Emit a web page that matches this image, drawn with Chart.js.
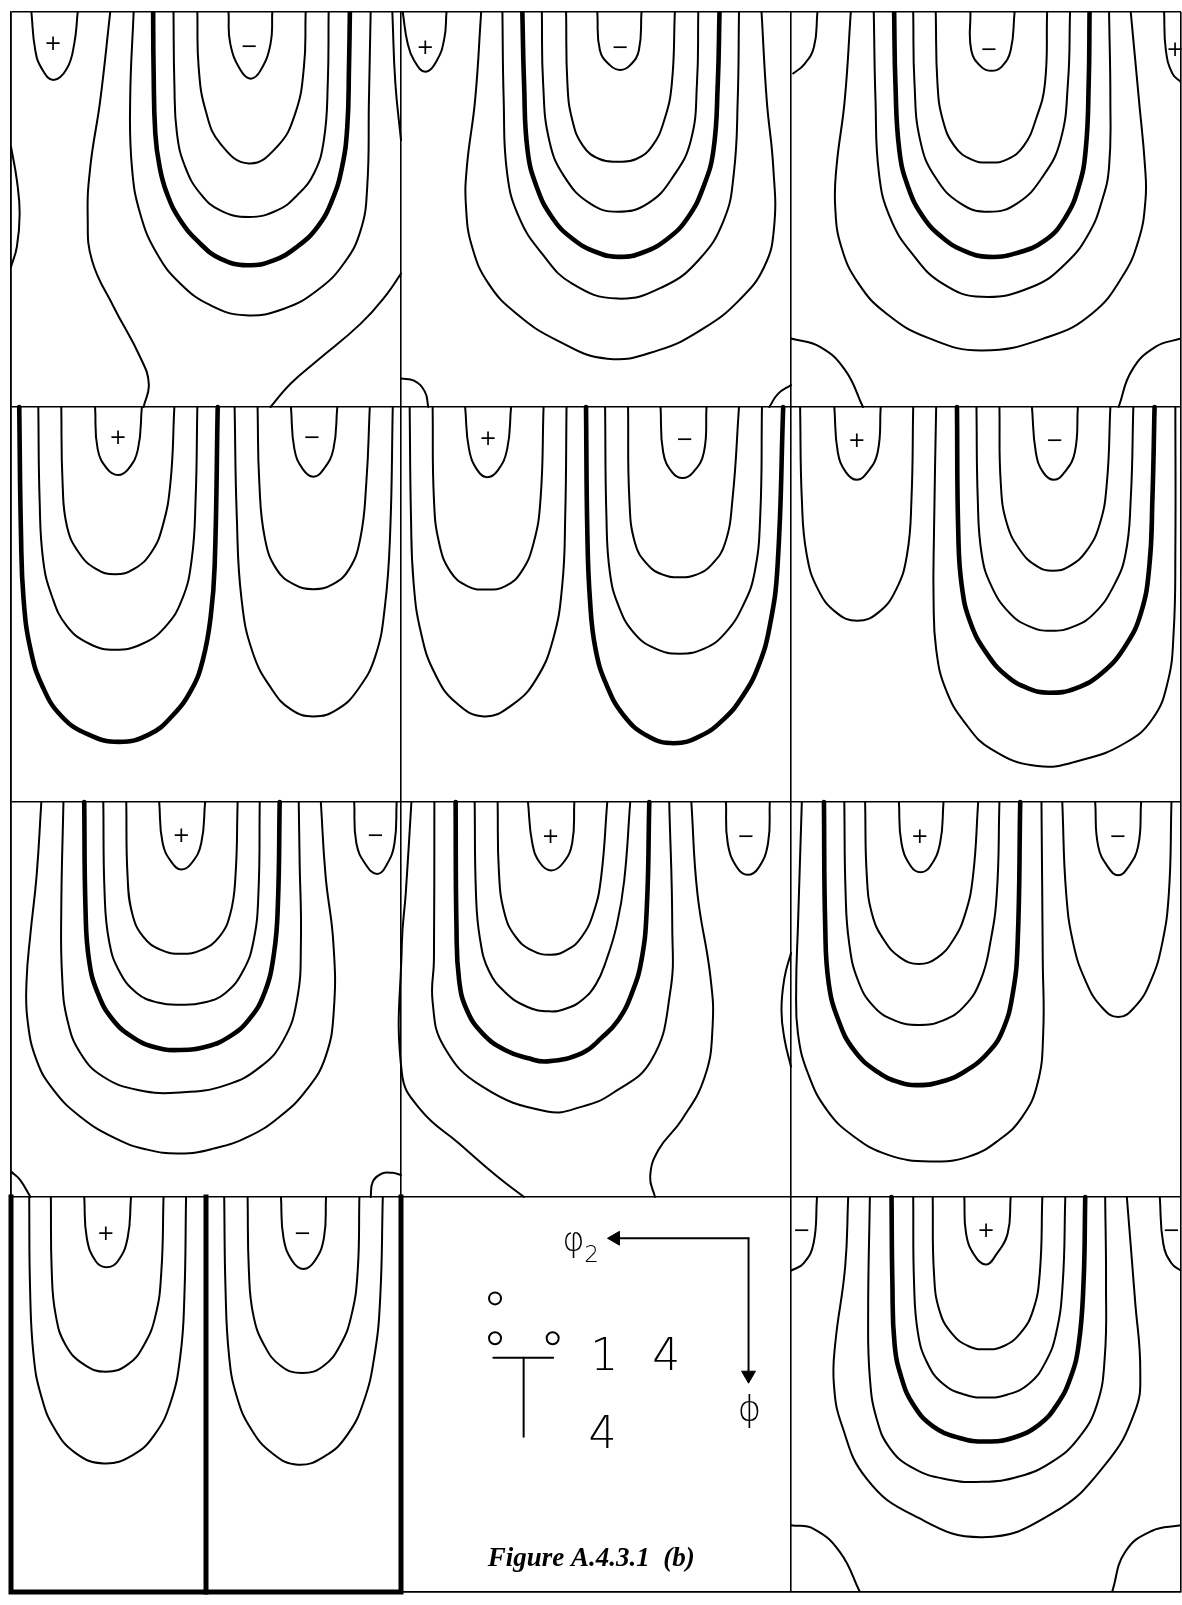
<!DOCTYPE html>
<html>
<head>
<meta charset="utf-8">
<script src="https://cdn.jsdelivr.net/npm/chart.js@4/dist/chart.umd.min.js"></script>
<style>
html,body{margin:0;padding:0;background:#fff;overflow:hidden;}
canvas{display:block;}
</style>
</head>
<body>
<canvas id="odf" width="1182" height="1605"></canvas>
<script>
// Each section spans 0..90 degrees in phi2 (horizontal) and Phi (vertical, downwards).
const SPAN = 90;
const NCOLS = 3;
const NROWS = 4;

// Contour lines, as flat [x0,y0, x1,y1, ...] lists in section degrees.
// ---- Row 1 ----
const r1c1Thin = [
  [4.7,0, 5.6,8.7, 7.1,12.9, 9.8,15.5, 12.9,12.9, 14.6,7.2, 15.4,0],
  [50.2,0, 50.6,7.2, 53,13.3, 55.3,15.2, 57.6,13.3, 59.9,7.2, 60.3,0],
  [43,0, 43.3,12.5, 44.9,22.4, 48.3,30, 54.9,34.5, 61.4,30.7, 65.6,23.1, 67.6,12.5, 68,0],
  [37.5,0, 37.7,16.3, 38.3,27.7, 40.2,35.3, 43.7,41.4, 48.3,45.2, 54.9,46.7, 61.4,45.2, 66,41.8, 69.9,36.8, 72.2,29.2, 73.1,16.3, 73.3,0],
  [28.3,0, 27.5,20.1, 27.9,35.3, 29.8,45.9, 33.7,55.1, 39.1,61.9, 46,66.8, 54.1,69.1, 63,67.6, 70.7,63.4, 76.8,57.3, 80.7,49.7, 82.2,39.9, 82.6,20.1, 83,0],
  [22.9,0, 20.6,20.1, 18.3,35.3, 17.7,46.7, 18.7,56.6, 23.7,67.2, 29.8,78.6, 31.8,84.7, 30.6,90],
  [0,30.7, 1.35,38.3, 2,45.9, 1.35,53.5, 0,58.1],
  [88,0, 88.7,16.3, 90,29.2],
  [59.9,90, 64.5,84.7, 70.7,79.4, 80.7,71, 86.8,64.2, 90,59.6]
];
const r1c1Thick = [
  [32.8,0, 32.9,12.5, 33.3,27.7, 34.3,35.3, 36,41.4, 39.1,47.5, 43.7,52.8, 48.3,56.2, 54.5,57.7, 60.6,56.6, 66,53.5, 70.7,49, 74.1,42.9, 76.4,35.3, 77.6,26.2, 78,12.5, 78.2,0]
];
const r1c1Signs = [[9.7,7.5,'+'],[55,8,'\u2212']];

const r1c2Thin = [
  [0.4,0, 1.5,7, 3,11, 5.6,13.6, 8.3,11, 10,6, 10.5,0],
  [0,83.5, 3,84, 5.5,86.5, 6.3,90],
  [85,90, 87,87, 90,85],
  [18.5,0, 17.1,20.1, 15.2,35.3, 15,44.4, 16.4,53.5, 20.2,61.9, 26.6,68.7, 36,74.8, 47.6,79, 59.3,77.1, 69.8,72.1, 78,65.7, 83.8,58.1, 86.1,49, 85.9,35.3, 84.4,20.1, 83.2,0],
  [23.4,0, 23.7,20.1, 24.5,36.8, 27.2,46.7, 32.5,55, 39.5,61.9, 50,65.3, 60.5,62.6, 68.7,56.5, 74.5,47.4, 76.8,36.8, 77.7,20.1, 78,0],
  [32.5,0, 32.8,16.3, 34.2,29.2, 37.7,37.5, 43.6,43.6, 50,45.5, 57,43.6, 62.8,37.5, 66.9,29.2, 68.3,16.3, 68.6,0],
  [38.1,0, 38.4,16.3, 39.5,24.5, 42,30.5, 45.8,33.5, 50,34.1, 54.3,33.5, 58,30.5, 60.8,24.5, 62.5,16.3, 63.2,0],
  [45.3,0, 45.9,8.7, 48.2,12.1, 50.6,13.2, 52.9,12.1, 54.9,8.7, 55.5,0]
];
const r1c2Thick = [
  [28,0, 28.4,16.3, 29.2,31.5, 31.3,39.8, 34.8,46.7, 39.5,51.6, 45.3,54.8, 50.6,55.8, 55.8,54.8, 61.6,51.6, 66.3,46.7, 69.8,39.8, 72.1,31.5, 73.1,16.3, 73.5,0]
];
const r1c2Signs = [[5.6,8.3,'+'],[50.6,8.3,'\u2212']];

const r1c3Thin = [
  [6.1,0, 5.3,8, 3,12, 0.5,14],
  [13.8,0, 12.4,20.1, 10.5,35.3, 10.2,44.4, 11.6,53.5, 15.6,61.9, 22,68.7, 31.5,74.2, 44.1,77.1, 59.5,74, 69.5,68.7, 76.4,60.4, 80.2,52, 81.8,42.9, 81.7,35.3, 80.3,20.1, 78.4,0],
  [19.1,0, 19.5,20.1, 20.3,36.8, 22.8,46.7, 27.9,55, 35,61.9, 44.1,64.9, 55.7,62.6, 63.4,57.3, 68.7,50.5, 71.8,42.9, 73.4,35.3, 73.7,20.1, 73.4,0],
  [28.2,0, 28.5,16.3, 29.8,29.2, 33.2,37.5, 39.1,43.6, 45.7,45.5, 52.2,43.6, 58.1,37.5, 62.2,29.2, 63.9,16.3, 64.4,0],
  [33.4,0, 33.8,16.3, 35,24.5, 37.7,30.5, 41.6,33.6, 45.7,34.3, 49.9,33.6, 53.7,30.5, 56.5,24.5, 58.6,16.3, 59.1,0],
  [41.4,0, 41.6,8.7, 43.9,12.5, 46.3,13.4, 48.6,12.5, 50.7,8.7, 51.6,0],
  [86.1,0, 86.5,8.7, 88,14, 90,16],
  [0,74.4, 6.7,76.3, 12.5,81.6, 16.6,90],
  [75.6,90, 78.7,81.6, 84.1,76.3, 90,74.4]
];
const r1c3Thick = [
  [23.8,0, 24.1,16.3, 25,31.5, 27,39.8, 30.5,46.7, 35.2,51.6, 40.4,54.6, 45.5,55.8, 51.8,55, 58.7,52, 63.4,46.7, 66.4,39.8, 68,31.5, 68.7,16.3, 68.9,0]
];
const r1c3Signs = [[45.7,8.7,'\u2212'],[88.6,8.7,'+']];

// ---- Row 2 ----
const r2c1Thin = [
  [19.4,0, 20,9.6, 22.2,14.1, 24.7,15.5, 27.1,14.1, 29.3,9.6, 30.2,0],
  [11.6,0, 11.9,17.2, 12.9,27.1, 15.6,33.1, 19.6,36.9, 24,38.1, 28.4,36.9, 32.4,33.1, 35,27.1, 36.8,17.2, 37.7,0],
  [6.3,0, 6.6,21, 7.4,34.7, 9.4,43, 12.9,49.9, 18.2,54, 24,55.3, 30.2,54, 35.5,50.2, 39.5,43.8, 41.7,34.7, 42.6,21, 43,0],
  [64.6,0, 65.4,9.6, 67.3,14.1, 69.8,15.9, 72.2,14.1, 74.4,9.6, 75.3,0],
  [56.9,0, 57.3,17.2, 58.6,30, 61.3,37, 65.3,40.4, 69.8,41.5, 74.2,40.4, 78,37, 80.6,30, 82,17.2, 82.8,0],
  [51.6,0, 52.1,24.8, 53.2,43.8, 55.8,56, 60.2,64.3, 64.6,68.9, 69.8,70.5, 75.3,68.9, 80.1,64.3, 84.1,56.7, 86.3,45.3, 87.5,28.6, 88.1,0]
];
const r2c1Thick = [
  [1.9,0, 2.3,28.6, 2.9,43.8, 4.5,55.2, 7.2,63.5, 11.6,70.4, 17.8,74.6, 24.9,76.3, 31.9,74.6, 37.2,70.4, 41.7,64.3, 44.3,57.5, 46.1,47.6, 47,36.2, 47.7,0]
];
const r2c1Signs = [[24.7,7.1,'+'],[69.5,7.1,'\u2212']];

const r2c2Thin = [
  [14.8,0, 15.7,9.6, 17.7,14.5, 19.9,16, 22.3,14.5, 24.5,9.6, 25.4,0],
  [7.3,0, 7.6,21, 8.8,31, 11.4,37.5, 15.3,40.8, 19.7,41.6, 24.1,40.8, 27.8,37.5, 30.6,31, 32.2,21, 32.9,0],
  [2,0, 2.3,24.8, 2.9,40, 4.6,51.4, 7.7,60.5, 12.6,67.3, 19.2,70.5, 25.9,67.7, 31.2,62, 35.1,52.9, 37.2,40.7, 37.9,24.8, 38.2,0],
  [59.9,0, 60.5,10.3, 62.6,14.9, 65,16.2, 67.4,14.9, 69.9,10.3, 70.5,0],
  [52.4,0, 52.7,21, 54,31, 56.8,35.8, 60.4,38.2, 64.3,38.8, 68.2,38.2, 71.8,35.8, 74.8,31, 76.5,21, 78,0],
  [47.1,0, 47.4,24.8, 48.2,37.7, 50.2,45.3, 53.7,51.4, 58.6,55, 64.3,56.2, 70.1,55, 74.9,51.4, 78.9,45.3, 81.6,37.7, 82.9,24.8, 83.3,0]
];
const r2c2Thick = [
  [42.7,0, 43,28.6, 43.6,43.8, 44.9,55.2, 47.5,63.5, 51.5,70.4, 56.8,74.9, 63,76.6, 69.2,74.9, 74.5,71.1, 78.9,65.8, 82.5,59, 85.1,49.9, 86.9,36.2, 88.2,0]
];
const r2c2Signs = [[20.1,7.4,'+'],[65.5,7.7,'\u2212']];

const r2c3Thin = [
  [2.1,0, 2.5,21, 3.6,33.5, 6.2,41.5, 10.4,46.8, 15.3,48.7, 20.2,46.8, 24.3,41.5, 26.8,33.5, 27.8,21, 28.2,0],
  [10,0, 10.8,10.3, 12.7,14.9, 15.2,16.6, 17.6,14.9, 20,10.3, 20.7,0],
  [33.5,0, 33,28.6, 32.9,43.8, 33.5,55.2, 35.7,64.3, 40.1,71.9, 46.3,78, 56.9,81.8, 67.5,80.3, 77.2,76.5, 83.4,71.1, 86.9,62.8, 88.3,51.4, 88.7,32.4, 88.7,0],
  [42.8,0, 43.1,21, 44,33.5, 46.2,40.7, 50.3,46.8, 55,50, 60,51, 65.3,50, 70.2,46.8, 74.5,40.7, 77.2,33.5, 78.4,21, 79,0],
  [48.1,0, 48.4,17.2, 49.8,26.5, 53,32.8, 56.8,36.3, 60.4,37.3, 64.2,36.3, 68.2,32.8, 71.3,26.5, 72.9,17.2, 73.7,0],
  [55.6,0, 56.5,10.3, 58.2,14.9, 60.7,16.6, 63.1,14.9, 65.5,10.3, 66.2,0]
];
const r2c3Thick = [
  [38.3,0, 38.6,28.6, 39.4,40.7, 41.4,49.1, 45,55.9, 49.8,61.3, 54.7,64.1, 59.5,65.1, 65.7,64.1, 71.9,60.5, 77.2,54.4, 80.8,46.8, 82.7,36.2, 83.4,21, 83.9,0]
];
const r2c3Signs = [[15.2,7.9,'+'],[60.9,7.9,'\u2212']];

// ---- Row 3 ----
const r3c1Thin = [
  [34.2,0, 35,9.4, 37.2,13.9, 39.3,15.4, 41.7,13.9, 43.9,9.4, 44.8,0],
  [26.6,0, 26.9,16.9, 28,25.5, 30.6,30.8, 34.6,33.7, 39.3,34.6, 44,33.7, 48,30.8, 50.6,25.5, 51.8,16.9, 52.3,0],
  [21.3,0, 21.6,20.8, 22.6,31.5, 24.9,38.4, 29,43.5, 33.9,45.7, 39,46.2, 44.5,45.7, 49.5,43.5, 53.6,38.4, 56,31.5, 57.1,20.8, 57.4,0],
  [12.1,0, 11.6,24.6, 11.8,39.8, 13,49.6, 16,57.2, 21.3,62.6, 29.3,65.6, 39,66.2, 49.6,64.5, 57.6,60.3, 62.9,54.2, 66,45.1, 66.9,32.2, 66.6,13.2, 66.4,0],
  [7,0, 5.9,16.9, 4.5,29.9, 3.6,40.5, 3.8,49.6, 5.9,58.8, 9.8,65.6, 16,71.7, 24,76.6, 31,79.1, 39,80.1, 47,78.9, 54.9,76.2, 62,71.7, 68.2,65.6, 72.6,58, 74.5,47.4, 74.4,32.2, 72.6,16.9, 71.5,0],
  [79.2,0, 79.7,9.4, 81.9,14.3, 84.5,16.4, 86.7,14.3, 88.5,9.4, 89,0],
  [0,84.2, 2,86, 4.5,90],
  [83,90, 83.5,86.5, 85.5,84.7, 88,84.5, 90,85]
];
const r3c1Thick = [
  [16.9,0, 17.2,24.6, 18,36, 20,43.5, 23.5,49.6, 28.4,53.8, 33.7,56, 39,56.5, 45.2,55.7, 50.5,53.4, 54.9,49.6, 58.5,43.5, 60.7,34.4, 61.6,23, 62,0]
];
const r3c1Signs = [[39.3,7.8,'+'],[84.1,7.8,'\u2212']];

const r3c2Thin = [
  [29.3,0, 30.3,9.4, 32.1,13.9, 34.7,15.6, 37.4,13.9, 39.5,9.4, 40,0],
  [22.3,0, 22.6,16, 23.8,25, 26.3,30.5, 30.2,33.8, 34.7,34.8, 38.5,33.6, 41.8,30.6, 44.5,25, 46.2,17, 47.6,0],
  [17,0, 17.3,20.8, 18.2,31, 20.3,38.5, 24.2,43.5, 29.2,46.7, 34.2,47.7, 38.3,47, 41.8,45.1, 45,41.5, 47.4,36, 49.8,28, 51.5,18, 52.9,0],
  [7.7,0, 7.6,36, 7.3,45.6, 9.9,55.7, 18.7,64.8, 33.7,70.5, 41.8,69.4, 48.9,66.3, 57.8,58.8, 62.1,43.5, 62.6,28.4, 61.9,0],
  [2.4,0, 1.1,20.8, 0.2,32.2, 0.2,61.8, 4.6,70.2, 13.4,77.8, 22.3,85.4, 28.4,90],
  [67,0, 68.4,20.8, 71.4,39.8, 71.9,51.2, 70.1,62.6, 64.8,72.4, 59.4,79.3, 57.5,85.3, 58.6,90],
  [75,0, 75.4,9.4, 77.6,15, 80,16.6, 82.5,15, 84.7,9.4, 85.1,0],
  [90,34.4, 88.5,40, 87.8,47.4, 88.5,54, 90,60.3]
];
const r3c2Thick = [
  [12.6,0, 12.8,28.4, 13.4,40.5, 15.2,47.4, 18.8,52.7, 24,56.5, 29.4,58.4, 33.8,59.1, 41.8,57.2, 46.2,53.8, 50.2,49.6, 53.3,43.5, 55.5,36, 56.7,24.6, 57.3,0]
];
const r3c2Signs = [[34.5,8.1,'+'],[79.6,8.1,'\u2212']];

const r3c3Thin = [
  [2.5,0, 1.6,28.4, 1.2,42, 1.6,52.7, 3.9,61.8, 8.3,70.2, 14.5,76.2, 22.4,80.4, 32.1,81.9, 41,80.8, 48,77, 53.4,71.7, 56.9,64.1, 58.2,52.7, 58.1,36, 57.8,0],
  [12.3,0, 12.6,20.8, 13.4,32, 15.4,40.5, 19,46.5, 24,49.8, 29.5,50.8, 35,49.8, 40,46.5, 43.8,40.5, 46,32, 47.5,20.8, 48.1,0],
  [17.1,0, 17.5,16.9, 18.7,25.5, 21.5,31.5, 25.3,35.5, 29.5,36.9, 33.7,35.5, 37.4,31.5, 40.2,25.5, 42,16.9, 43.2,0],
  [24.9,0, 25.5,9.4, 27.7,14.7, 29.9,16, 32.1,14.7, 34.4,9.4, 35.2,0],
  [62.6,0, 63.5,20.8, 65.2,32.5, 68,40.8, 71.5,46.5, 75.5,49, 79.5,46.5, 83,40.8, 85.6,32.5, 87.2,20.8, 87.8,0],
  [70.2,0, 70.9,10.1, 73.3,15, 75.5,16.7, 77.7,15, 80.1,10.1, 80.8,0]
];
const r3c3Thick = [
  [7.6,0, 7.9,28.4, 8.7,41.3, 10.9,49.6, 14.5,56.5, 19.8,61.4, 25.1,63.9, 29.5,64.5, 34.8,63.7, 40.1,61.4, 45.4,57.2, 48.9,51.9, 51.2,43.5, 52.3,32.2, 52.9,0]
];
const r3c3Signs = [[29.7,8.1,'+'],[75.5,8.1,'\u2212']];

// ---- Row 4 ----
const r4c1Thin = [
  [16.9,0, 17.5,9.4, 19.6,14.7, 22.1,16, 24.6,14.7, 26.9,9.4, 27.7,0],
  [9.2,0, 9.4,16.9, 10.3,26.8, 12.6,33.7, 16.9,38.2, 21.9,39.8, 26.9,38.2, 30.7,33.7, 33.4,26.8, 34.7,16.9, 35.2,0],
  [4.2,0, 4.4,20.8, 5.2,36, 6.9,45.1, 10,52.7, 15,58.4, 21.5,60.7, 28.1,58.8, 33.1,54.2, 36.9,46.6, 39.1,36, 40,23, 40.4,0],
  [62.3,0, 62.9,9.4, 65,14.7, 67.5,16.4, 70,14.7, 72.2,9.4, 72.7,0],
  [54.6,0, 54.9,16.9, 55.9,26.8, 58.4,33.7, 62.3,38.5, 67.2,40.1, 72.1,38.5, 76,33.7, 78.6,26.8, 80,16.9, 80.4,0],
  [49.2,0, 49.5,20.8, 50.3,36, 52,45.1, 55.3,52.7, 60.3,58.4, 66.2,61, 72.5,59, 77.6,54.2, 81.4,46.6, 83.9,36, 85.2,23, 85.8,0]
];
const r4c1Thick = [];
const r4c1Frame = [
  [0,0, 0,90, 90,90, 90,0],
  [45,0, 45,90]
];
const r4c1Signs = [[21.9,8.6,'+'],[67.3,8.6,'\u2212']];

const r4c3Thin = [
  [6,0, 5.2,10.6, 2.9,15.1, 0,16.8],
  [85.1,0, 85.9,10.6, 87.8,15.1, 90,16.8],
  [40,0, 40.4,8.3, 42.3,13.2, 45,15.4, 47.3,13.2, 50,8.3, 50.7,0],
  [32.7,0, 33,17.5, 34.3,26, 37.2,31.2, 41,34, 45,34.7, 49,34, 52.8,31.2, 55.8,26, 57.4,17.5, 58,0],
  [28.2,0, 28.4,19.7, 29.3,31, 31.4,37.7, 35,42.5, 40,45, 45,45.7, 50,45, 55,42.5, 58.7,37.7, 61.2,31, 62.7,19.7, 63.3,0],
  [18.2,0, 17.8,27.4, 18.2,41.2, 19.7,50.3, 22.8,57.2, 28.2,61.8, 35.8,64.3, 44.2,64.9, 52.6,63.7, 60.3,60.3, 66.4,54.9, 70.6,47.3, 72.4,36.6, 72.7,19.7, 72.5,0],
  [13.2,0, 12.5,15.9, 10.2,33.5, 9.9,42.7, 11.7,51.9, 17.4,64.1, 28.2,72.5, 44.2,77.5, 60.3,72.1, 72.5,61, 79.4,48.8, 80.6,39.6, 79.4,23.6, 77.5,0],
  [0,74.8, 5.2,75.6, 11.3,80.9, 15.9,90],
  [74.1,90, 77.1,80.9, 83.2,76.1, 90,74.8]
];
const r4c3Thick = [
  [23.2,0, 23.4,19.7, 23.9,33.5, 25.5,41.2, 28.2,47.3, 32.7,52.2, 38.9,54.9, 45,55.7, 51.1,54.9, 57.2,51.9, 61.4,47.3, 64.5,41.2, 66.4,33.5, 67.5,19.7, 67.9,0]
];
const r4c3Signs = [[2.5,7.9,'\u2212'],[45,7.9,'+'],[87.8,7.9,'\u2212']];

// ---- Key section (row 4, column 2) ----
const keyArrowPhi2 = [80.2,9.4, 49.5,9.4];
const keyArrowPhi = [80.2,9.4, 80.2,40.6];
const keyHeadPhi2 = [49.5,9.4];
const keyHeadPhi = [80.2,40.6];
const keyCircles = [21.7,23.1, 21.7,32.2, 35,32.2];
const keyTBar = [21.3,36.6, 35.1,36.6];
const keyTStem = [28.3,36.6, 28.3,54.6];
const keyTexts = ['\u03C6', '2', '\u03D5', '1', '4', '4', 'Figure A.4.3.1  (b)'];

// ---------- build ----------
const panels = [
  {col:0,row:0,thin:r1c1Thin,thick:r1c1Thick,signs:r1c1Signs},
  {col:1,row:0,thin:r1c2Thin,thick:r1c2Thick,signs:r1c2Signs},
  {col:2,row:0,thin:r1c3Thin,thick:r1c3Thick,signs:r1c3Signs},
  {col:0,row:1,thin:r2c1Thin,thick:r2c1Thick,signs:r2c1Signs},
  {col:1,row:1,thin:r2c2Thin,thick:r2c2Thick,signs:r2c2Signs},
  {col:2,row:1,thin:r2c3Thin,thick:r2c3Thick,signs:r2c3Signs},
  {col:0,row:2,thin:r3c1Thin,thick:r3c1Thick,signs:r3c1Signs},
  {col:1,row:2,thin:r3c2Thin,thick:r3c2Thick,signs:r3c2Signs},
  {col:2,row:2,thin:r3c3Thin,thick:r3c3Thick,signs:r3c3Signs},
  {col:0,row:3,thin:r4c1Thin,thick:r4c1Thick,signs:r4c1Signs},
  {col:2,row:3,thin:r4c3Thin,thick:r4c3Thick,signs:r4c3Signs}
];
const KEY = {col:1,row:3};

function toPts(arr, col, row){
  const pts = [];
  for (let i = 0; i < arr.length; i += 2) pts.push({x: col*SPAN + arr[i], y: row*SPAN + arr[i+1]});
  return pts;
}
function lineDs(data, w, tension){
  return {data, showLine:true, borderColor:'#000', borderWidth:w, pointRadius:0,
          tension: tension, fill:false, borderCapStyle:'round', borderJoinStyle:'round'};
}

const datasets = [];
for (const p of panels){
  for (const c of p.thin) datasets.push(lineDs(toPts(c,p.col,p.row), 2, 0.45));
  for (const c of p.thick) datasets.push(lineDs(toPts(c,p.col,p.row), 4.6, 0.45));
}
for (const f of r4c1Frame){
  const ds = lineDs(toPts(f,0,3), 5, 0);
  ds.clip = false;
  ds.borderCapStyle = 'square';
  ds.borderJoinStyle = 'miter';
  datasets.push(ds);
}
datasets.push(lineDs(toPts(keyArrowPhi2,KEY.col,KEY.row), 2, 0));
datasets.push(lineDs(toPts(keyArrowPhi,KEY.col,KEY.row), 2, 0));
datasets.push(lineDs(toPts(keyTBar,KEY.col,KEY.row), 2, 0));
datasets.push(lineDs(toPts(keyTStem,KEY.col,KEY.row), 2, 0));
datasets.push({data: toPts(keyHeadPhi2,KEY.col,KEY.row), showLine:false, pointStyle:'triangle',
  pointRadius:8, pointRotation:-90, pointBackgroundColor:'#000', pointBorderColor:'#000', pointBorderWidth:1});
datasets.push({data: toPts(keyHeadPhi,KEY.col,KEY.row), showLine:false, pointStyle:'triangle',
  pointRadius:8, pointRotation:180, pointBackgroundColor:'#000', pointBorderColor:'#000', pointBorderWidth:1});
datasets.push({data: toPts(keyCircles,KEY.col,KEY.row), showLine:false, pointStyle:'circle',
  pointRadius:6, pointBackgroundColor:'#fff', pointBorderColor:'#000', pointBorderWidth:2});

// text placement (section degrees) and styles for the key
const keyTextPlacement = [
  {x:39.8, y:10.3, font:'200 34px "DejaVu Sans"', base:'middle'},
  {x:44.0, y:13.4, font:'200 23px "DejaVu Sans"', base:'middle'},
  {x:80.4, y:48.8, font:'200 36px "DejaVu Sans"', base:'middle'},
  {x:46.9, y:36.9, font:'200 44px "DejaVu Sans"', base:'middle'},
  {x:61.2, y:36.9, font:'200 44px "DejaVu Sans"', base:'middle'},
  {x:46.5, y:54.6, font:'200 44px "DejaVu Sans"', base:'middle'},
  {x:43.9, y:84.1, font:'italic bold 27px "Liberation Serif"', base:'alphabetic'}
];

const textPlugin = {
  id: 'odfText',
  afterDatasetsDraw(chart){
    const ctx = chart.ctx, xs = chart.scales.x, ys = chart.scales.y;
    ctx.save();
    ctx.fillStyle = '#000';
    ctx.textAlign = 'center';
    ctx.textBaseline = 'middle';
    ctx.font = '21px "DejaVu Sans"';
    for (const p of panels){
      for (const s of p.signs){
        ctx.fillText(s[2], xs.getPixelForValue(p.col*SPAN + s[0]), ys.getPixelForValue(p.row*SPAN + s[1]));
      }
    }
    keyTexts.forEach((t, i) => {
      const pl = keyTextPlacement[i];
      ctx.font = pl.font;
      ctx.textBaseline = pl.base;
      ctx.fillText(t, xs.getPixelForValue(KEY.col*SPAN + pl.x), ys.getPixelForValue(KEY.row*SPAN + pl.y));
    });
    ctx.restore();
  }
};

new Chart(document.getElementById('odf'), {
  type: 'scatter',
  data: {datasets},
  options: {
    responsive: false,
    animation: false,
    devicePixelRatio: 1,
    events: [],
    layout: {autoPadding: false, padding: {left: 11, right: 1, top: 12, bottom: 13}},
    plugins: {legend: {display:false}, tooltip: {enabled:false}, title: {display:false}},
    scales: {
      x: {type:'linear', min:0, max:NCOLS*SPAN,
          ticks:{display:false, stepSize:SPAN},
          grid:{color:'#000', lineWidth:1.6, drawTicks:false},
          border:{display:true, color:'#000', width:1.6}},
      y: {type:'linear', min:0, max:NROWS*SPAN, reverse:true,
          ticks:{display:false, stepSize:SPAN},
          grid:{color:'#000', lineWidth:1.6, drawTicks:false},
          border:{display:true, color:'#000', width:1.6}}
    }
  },
  plugins: [textPlugin]
});
</script>
</body>
</html>
